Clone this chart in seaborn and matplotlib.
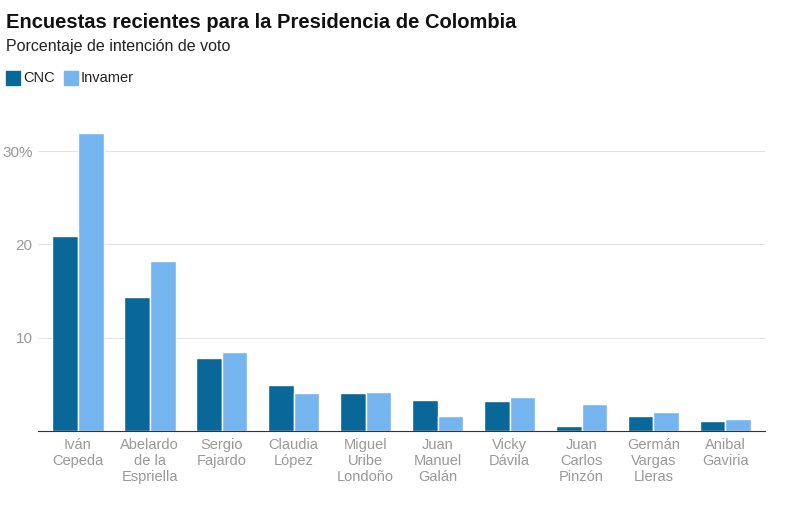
import matplotlib
matplotlib.use("Agg")
import matplotlib.pyplot as plt
import seaborn as sns
import pandas as pd

candidates = ["Iván\nCepeda", "Abelardo\nde la\nEspriella", "Sergio\nFajardo", "Claudia\nLópez",
              "Miguel\nUribe\nLondoño", "Juan\nManuel\nGalán", "Vicky\nDávila", "Juan\nCarlos\nPinzón",
              "Germán\nVargas\nLleras", "Anibal\nGaviria"]
cnc = [20.9, 14.4, 7.8, 4.9, 4.1, 3.3, 3.2, 0.5, 1.6, 1.0]
invamer = [31.9, 18.2, 8.5, 4.1, 4.2, 1.6, 3.6, 2.9, 2.0, 1.3]
series = ["CNC", "Invamer"]
colors = ["#0a6799", "#74b5ef"]

df = pd.DataFrame({"cand": candidates * 2, "val": cnc + invamer,
                   "enc": [series[0]] * len(cnc) + [series[1]] * len(invamer)})

sns.set_style("white")
plt.rcParams['font.family'] = ['Liberation Sans', 'DejaVu Sans']
fig = plt.figure(figsize=(7.92, 5.08), dpi=100)
ax = fig.add_axes([0.048, 0.152, 0.918, 0.624])
sns.barplot(data=df, x="cand", y="val", hue="enc", palette=colors, ax=ax,
            width=0.72, gap=0, saturation=1, legend=False)
ax.set_ylim(0, 34)
ax.set_xlim(-0.55, 9.55)
ax.set_yticks([10, 20, 30])
ax.set_yticklabels(["10", "20", "30%"], color="#999999", fontsize=11)
ax.yaxis.grid(True, color="#e3e3e3", lw=0.8)
ax.set_axisbelow(True)
ax.tick_params(axis="y", length=0, pad=4)
ax.tick_params(axis="x", length=0, pad=5, labelsize=10.5, labelcolor="#999999")
for s in ["top", "right", "left"]:
    ax.spines[s].set_visible(False)
ax.spines["bottom"].set_color("#333333")
ax.set_xlabel("")
ax.set_ylabel("")

fig.text(0.008, 0.955, "Encuestas recientes para la Presidencia de Colombia", fontsize=14.5,
         fontweight="bold", color="#111111", va="center")
fig.text(0.008, 0.908, "Porcentaje de intención de voto", fontsize=11.5, color="#222222", va="center")
fig.patches.append(plt.Rectangle((0.008, 0.833), 0.017, 0.028, color=colors[0], transform=fig.transFigure))
fig.text(0.029, 0.846, "CNC", fontsize=10.5, va="center", color="#222222")
fig.patches.append(plt.Rectangle((0.081, 0.833), 0.017, 0.028, color=colors[1], transform=fig.transFigure))
fig.text(0.102, 0.846, "Invamer", fontsize=10.5, va="center", color="#222222")

fig.savefig("out.png", dpi=100)
